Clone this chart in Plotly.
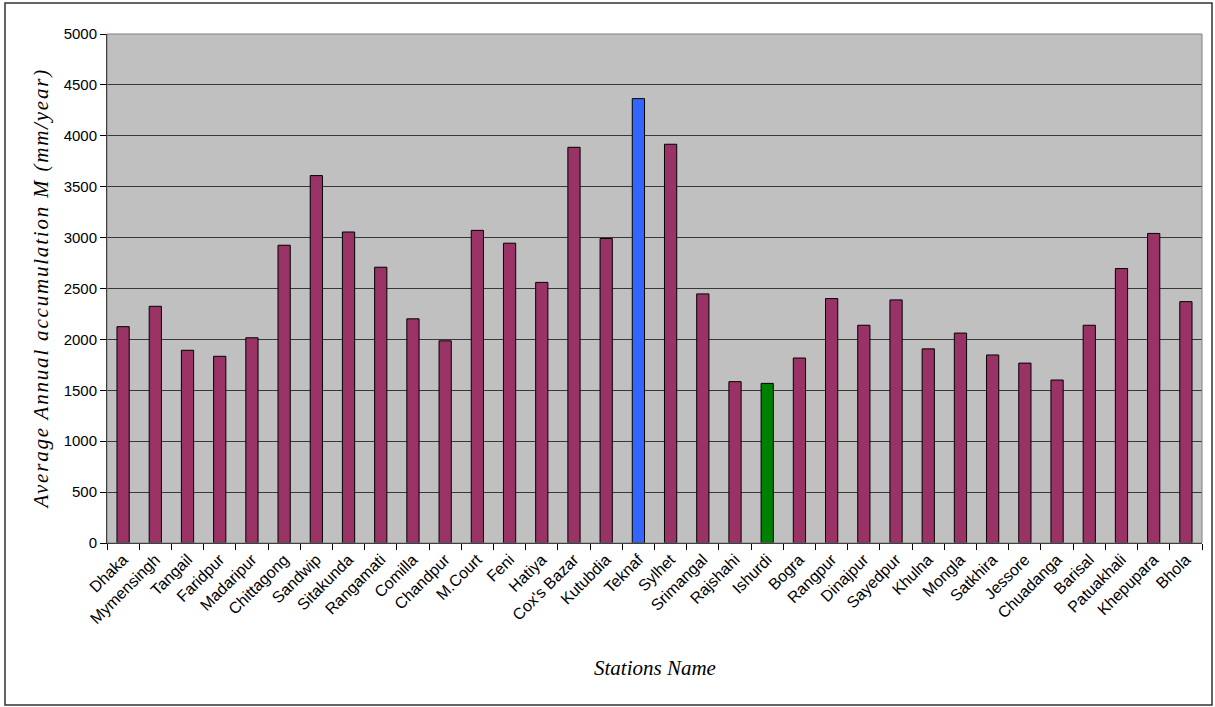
import plotly.graph_objects as go

stations = ["Dhaka", "Mymensingh", "Tangail", "Faridpur", "Madaripur", "Chittagong",
            "Sandwip", "Sitakunda", "Rangamati", "Comilla", "Chandpur", "M.Court",
            "Feni", "Hatiya", "Cox's Bazar", "Kutubdia", "Teknaf", "Sylhet",
            "Srimangal", "Rajshahi", "Ishurdi", "Bogra", "Rangpur", "Dinajpur",
            "Sayedpur", "Khulna", "Mongla", "Satkhira", "Jessore", "Chuadanga",
            "Barisal", "Patuakhali", "Khepupara", "Bhola"]
tick_labels = ["Dhaka", "Mymensingh", "Tangail", "Faridpur", "Madaripur", "Chittagong",
               "Sandwip", "Sitakunda", "Rangamati", "Comilla", "Chandpur", "M.Court",
               "Feni", "Hatiya", "Cox's Bazar", "Kutubdia", "Teknaf", "Sylhet",
               "Srimangal", "Rajshahi", "Ishurdi", "Bogra", "Rangpur", "Dinajpur",
               "Sayedpur", "Khulna", "Mongla", "Satkhira", "Jessore", "Chuadanga",
               "Barisal", "Patuakhali", "Khepupara", "Bhola"]
rainfall = [2125, 2325, 1893, 1834, 2016, 2925, 3609, 3055, 2709, 2202, 1986, 3071,
            2945, 2560, 3887, 2991, 4365, 3917, 2447, 1585, 1568, 1817, 2401, 2139,
            2388, 1907, 2062, 1847, 1767, 1601, 2139, 2696, 3041, 2371]
highest_station = "Teknaf"
lowest_station = "Ishurdi"

base_color = "#993366"
colors = []
for s in stations:
    if s == highest_station:
        colors.append("#3366FF")
    elif s == lowest_station:
        colors.append("#008000")
    else:
        colors.append(base_color)

# plot area in pixels
L, R, T, B = 107, 1202, 34, 543
W, H = R - L, B - T

def px(x):
    return (x - L) / W

def py(y):
    return (B - y) / H

fig = go.Figure()
fig.add_trace(go.Bar(
    x=stations, y=rainfall,
    marker=dict(color=colors, line=dict(color="black", width=1)),
    width=0.38,
))

fig.update_layout(
    width=1215, height=707,
    margin=dict(l=L, r=1215 - R, t=T, b=707 - B, pad=0),
    paper_bgcolor="white",
    plot_bgcolor="#C0C0C0",
    showlegend=False,
    font=dict(family="Liberation Sans, Arial, sans-serif", size=15, color="black"),
    xaxis=dict(
        type="category",
        tickmode="array", tickvals=stations, ticktext=tick_labels,
        tickangle=-45,
        tickson="boundaries",
        ticks="outside", ticklen=6, tickcolor="black",
        showgrid=False,
        showline=True, linecolor="black", linewidth=1,
        tickfont=dict(size=16),
    ),
    yaxis=dict(
        range=[0, 5000],
        tickmode="linear", tick0=0, dtick=500,
        ticks="outside", ticklen=6, tickcolor="black",
        showgrid=True, gridcolor="#383838", gridwidth=1,
        showline=True, linecolor="black", linewidth=1,
        zeroline=False,
        tickfont=dict(size=15),
    ),
    annotations=[
        dict(text="<i><span style='letter-spacing:1.8px'>Average Annual accumulation M (mm/year)</span></i>",
             xref="paper", yref="paper", x=px(40), y=0.5,
             textangle=-90, showarrow=False, xanchor="center", yanchor="middle",
             font=dict(family="Liberation Serif, Times New Roman, serif", size=21, color="black")),
        dict(text="<i>Stations Name</i>",
             xref="paper", yref="paper", x=0.5, y=py(668),
             showarrow=False, xanchor="center", yanchor="middle",
             font=dict(family="Liberation Serif, Times New Roman, serif", size=21, color="black")),
    ],
    shapes=[
        dict(type="rect", xref="paper", yref="paper",
             x0=0, x1=1, y0=0, y1=1, line=dict(color="#808080", width=1), layer="above"),
        dict(type="rect", xref="paper", yref="paper",
             x0=px(5), x1=px(1212), y0=py(705), y1=py(3),
             line=dict(color="#333333", width=1.5)),
    ],
)

fig.write_html("out.html")
